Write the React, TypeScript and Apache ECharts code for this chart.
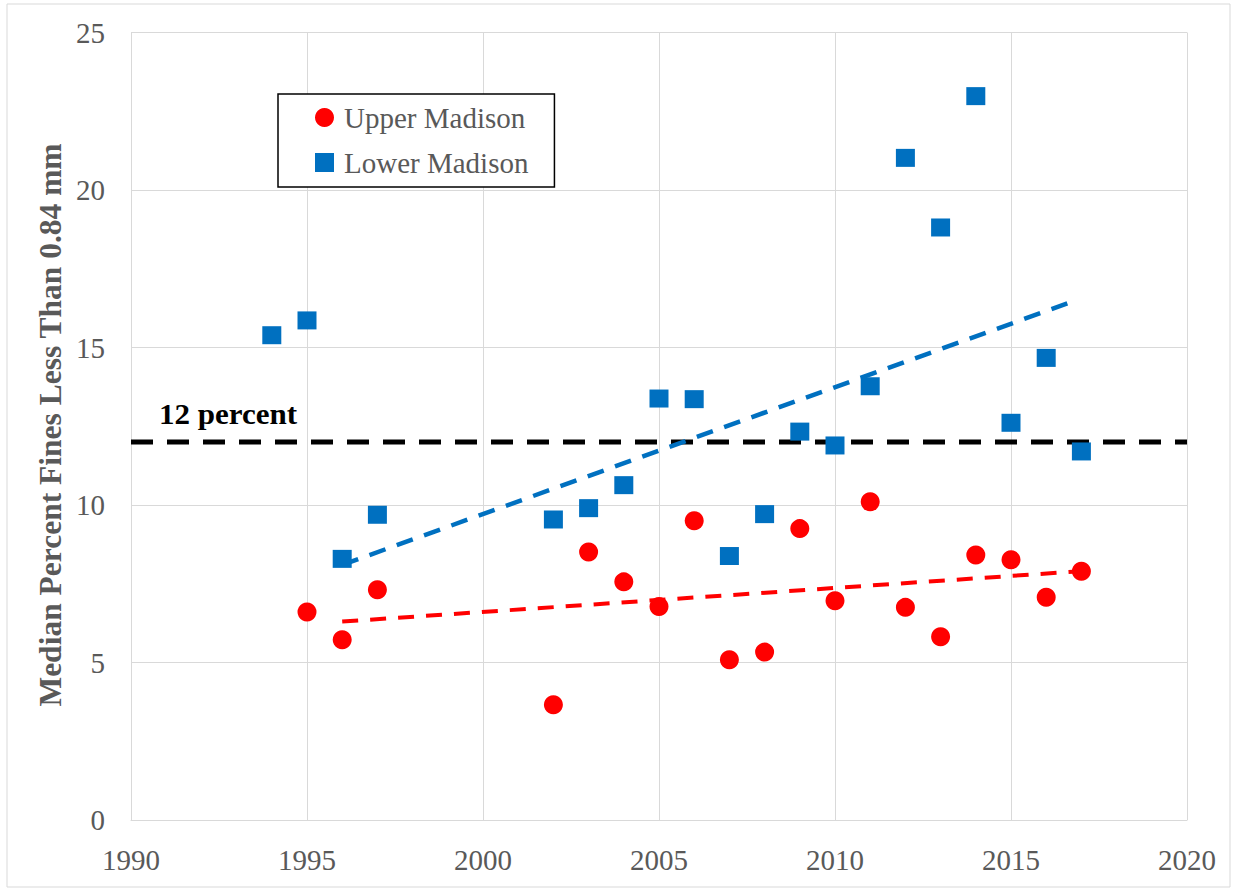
import React, { useEffect, useRef } from "react";
import * as echarts from "echarts";

const upperYears = [1995, 1996, 1997, 2002, 2003, 2004, 2005, 2006, 2007, 2008, 2009, 2010, 2011, 2012, 2013, 2014, 2015, 2016, 2017];
const upperValues = [6.6, 5.72, 7.31, 3.66, 8.51, 7.56, 6.78, 9.5, 5.09, 5.33, 9.25, 6.96, 10.1, 6.75, 5.82, 8.41, 8.26, 7.07, 7.9];
const lowerYears = [1994, 1995, 1996, 1997, 2002, 2003, 2004, 2005, 2006, 2007, 2008, 2009, 2010, 2011, 2012, 2013, 2014, 2015, 2016, 2017];
const lowerValues = [15.39, 15.86, 8.29, 9.69, 9.54, 9.9, 10.63, 13.38, 13.36, 8.38, 9.71, 12.33, 11.89, 13.77, 21.02, 18.81, 22.98, 12.61, 14.67, 11.7];
const upperTrend = [[1996, 6.3], [2017, 7.9]];
const lowerTrend = [[1996, 8.1], [2016.6, 16.4]];
const thresholdLine = [[1990, 12], [2020, 12]];
const thresholdLabel = "12 percent";
const yTitle = "Median Percent Fines Less Than 0.84 mm";

const SERIF = "Liberation Serif, Times New Roman, serif";
const GREY = "#595959";
const GRID = "#d9d9d9";

export default function App() {
  const ref = useRef<HTMLDivElement>(null);
  useEffect(() => {
    const chart = echarts.init(ref.current!, null, { renderer: "svg" });
    chart.setOption({
      animation: false,
      backgroundColor: "#fff",
      grid: { left: 131, right: 46, top: 32.5, bottom: 68 },
      xAxis: {
        type: "value",
        min: 1990,
        max: 2020,
        interval: 5,
        axisLine: { show: true, lineStyle: { color: GRID, width: 1 } },
        axisTick: { show: false },
        splitLine: { show: true, lineStyle: { color: GRID, width: 1 } },
        axisLabel: {
          color: GREY,
          fontFamily: SERIF,
          fontSize: 29,
          margin: 25,
          formatter: (v: number) => String(v),
        },
      },
      yAxis: {
        type: "value",
        min: 0,
        max: 25,
        interval: 5,
        axisLine: { show: true, lineStyle: { color: GRID, width: 1 } },
        axisTick: { show: false },
        splitLine: { show: true, lineStyle: { color: GRID, width: 1 } },
        axisLabel: { color: GREY, fontFamily: SERIF, fontSize: 29, margin: 26 },
      },
      legend: {
        orient: "vertical",
        left: 278,
        top: 94,
        padding: [9, 26, 10, 37],
        itemWidth: 19,
        itemHeight: 19,
        itemGap: 16,
        borderColor: "#000",
        borderWidth: 1.5,
        backgroundColor: "#fff",
        textStyle: {
          color: GREY,
          fontFamily: SERIF,
          fontSize: 29,
          lineHeight: 28,
          padding: [0, 0, 0, 5],
        },
        data: [
          { name: "Upper Madison", icon: "circle" },
          { name: "Lower Madison", icon: "rect" },
        ],
      },
      graphic: [
        {
          type: "rect",
          shape: { x: 7, y: 4, width: 1223, height: 883 },
          style: { fill: "none", stroke: GRID, lineWidth: 1 },
          silent: true,
        },
        {
          type: "text",
          x: 50,
          y: 425,
          rotation: Math.PI / 2,
          style: {
            text: yTitle,
            fill: GREY,
            fontFamily: SERIF,
            fontSize: 31.5,
            fontWeight: "bold",
            align: "center",
            verticalAlign: "middle",
          },
        },
        {
          type: "text",
          x: 159,
          y: 414,
          z: 10,
          scaleX: 1.07,
          style: {
            text: thresholdLabel,
            fill: "#000",
            fontFamily: SERIF,
            fontSize: 29,
            fontWeight: "bold",
            align: "left",
            verticalAlign: "middle",
          },
        },
      ],
      series: [
        {
          name: "threshold",
          type: "line",
          data: thresholdLine,
          symbol: "none",
          z: 1,
          lineStyle: { color: "#000", width: 5, type: [22, 14] },
        },
        {
          name: "upperTrend",
          type: "line",
          data: upperTrend,
          symbol: "none",
          z: 2,
          lineStyle: { color: "#ff0000", width: 4, type: [16, 12] },
        },
        {
          name: "lowerTrend",
          type: "line",
          data: lowerTrend,
          symbol: "none",
          z: 2,
          lineStyle: { color: "#0070c0", width: 4.5, type: [17, 12] },
        },
        {
          name: "Upper Madison",
          type: "scatter",
          symbol: "circle",
          symbolSize: 19,
          z: 5,
          itemStyle: { color: "#ff0000", opacity: 1 },
          data: upperYears.map((y, i) => [y, upperValues[i]]),
        },
        {
          name: "Lower Madison",
          type: "scatter",
          symbol: "rect",
          symbolSize: [19, 18],
          z: 5,
          itemStyle: { color: "#0070c0", opacity: 1 },
          data: lowerYears.map((y, i) => [y, lowerValues[i]]),
        },
      ],
    });
    return () => chart.dispose();
  }, []);
  return <div ref={ref} style={{ position: "absolute", left: 0, top: 0, width: 1233, height: 888 }} />;
}
